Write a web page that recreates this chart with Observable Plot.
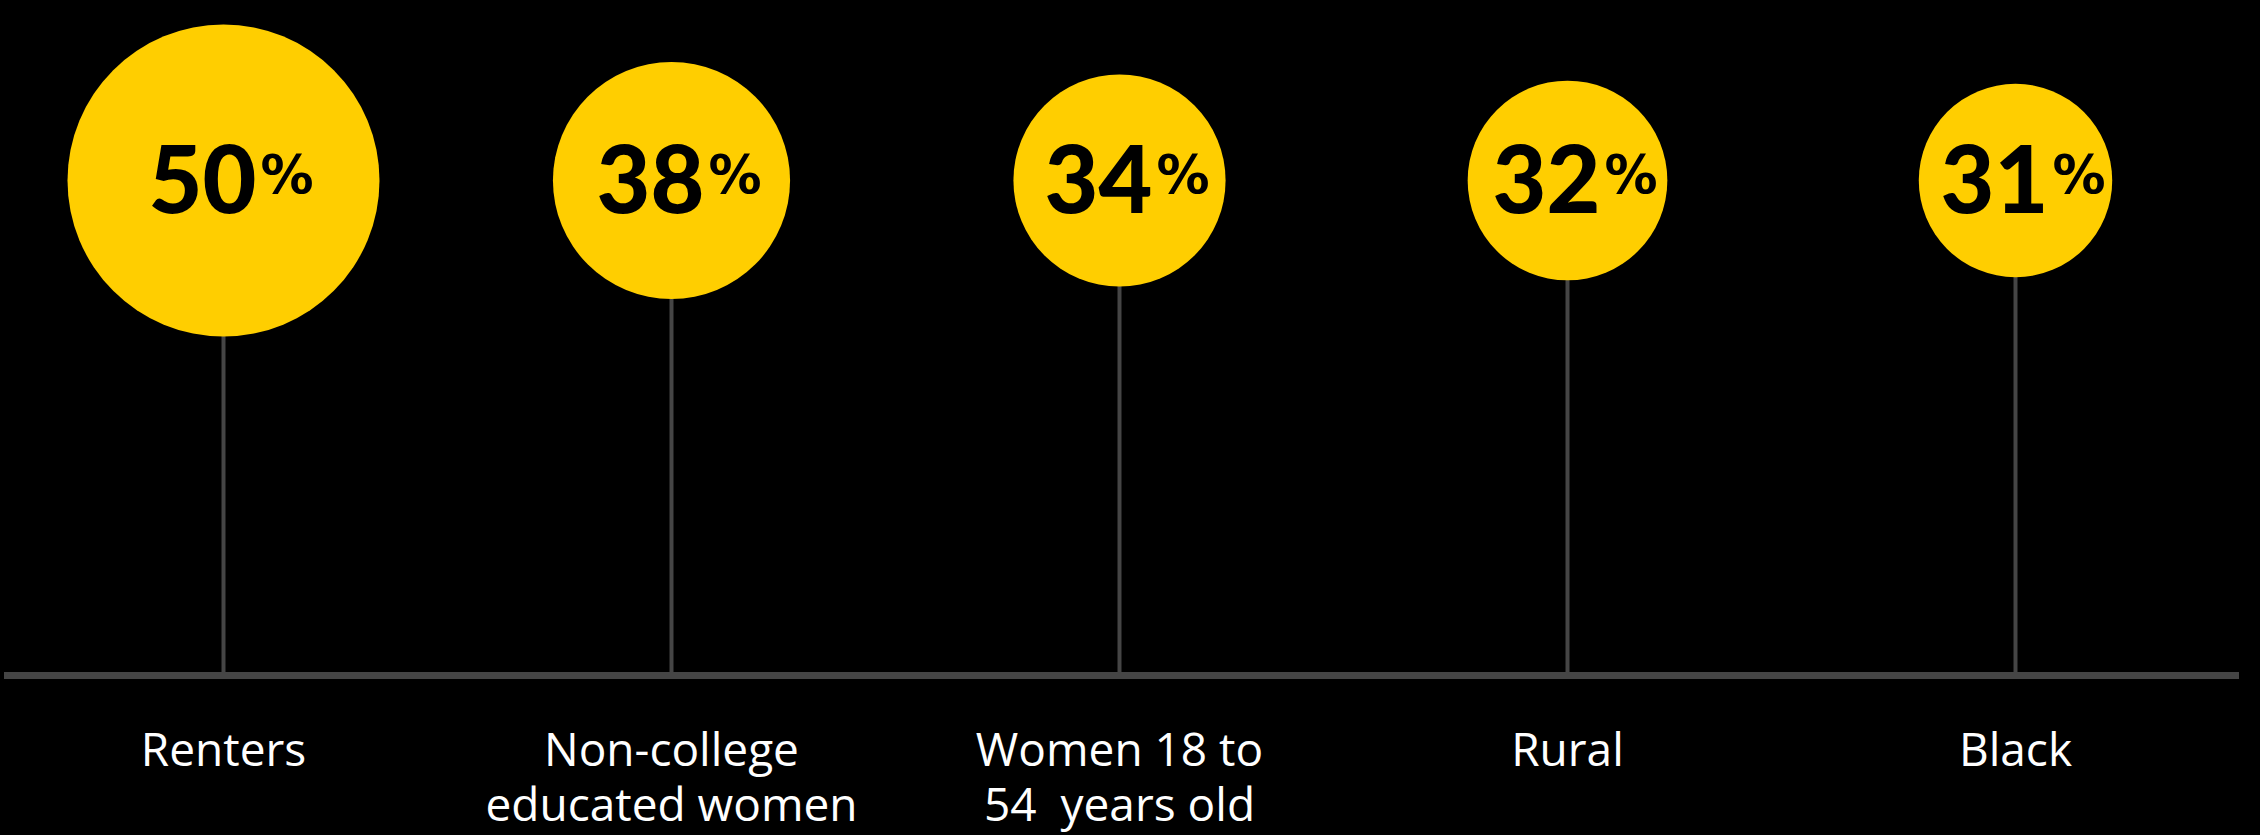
<!DOCTYPE html>
<html><head><meta charset="utf-8">
<script src="https://cdn.jsdelivr.net/npm/d3@7"></script>
<script src="https://cdn.jsdelivr.net/npm/@observablehq/plot@0.6"></script>
<style>html,body{margin:0;padding:0;background:#000;overflow:hidden}</style>
</head><body><div id="chart"></div>
<script>
const groups = ["Renters", "Non-college educated women", "Women 18 to 54 years old", "Rural", "Black"];
const labels = ["Renters", "Non-college\neducated women", "Women 18 to\n54  years old", "Rural", "Black"];
const values = [50, 38, 34, 32, 31];
const data = groups.map((g, i) => ({group: g, label: labels[i], value: values[i]}));

const chart = Plot.plot({
  width: 2260, height: 835,
  marginLeft: 4, marginRight: 21, marginTop: 0, marginBottom: 0,
  style: {background: "#000", overflow: "visible"},
  x: {type: "point", domain: groups, range: [222, 2016], padding: 0, axis: null},
  y: {domain: [0, 1], range: [675, 180], axis: null},
  r: {type: "linear", domain: [0, 50], range: [0, 156]},
  marks: [
    Plot.ruleX(data, {x: "group", y1: 0, y2: 1, stroke: "#454545", strokeWidth: 4}),
    Plot.ruleY([0], {stroke: "#454545", strokeWidth: 7}),
    Plot.dot(data, {x: "group", y: 1, r: "value", fill: "#FFCE00", stroke: "none"}),
    Plot.text(data, {x: "group", y: 1, text: d => String(d.value), textAnchor: "end", lineAnchor: "bottom", dx: 33, dy: 32, fontSize: 93, fontWeight: 900, fontFamily: "Lato", fill: "#000"}),
    Plot.text(data, {x: "group", y: 1, text: d => "%", textAnchor: "start", lineAnchor: "bottom", dx: 37, dy: 12, fontSize: 53, fontWeight: "bold", fontFamily: "DejaVu Sans", fill: "#000"}),
    Plot.text(data, {x: "group", y: 0, text: "label", lineAnchor: "top", dy: 51, fontSize: 46, lineHeight: 1.196, fill: "#fff", fontFamily: "Open Sans"})
  ]
});
document.getElementById("chart").append(chart);
</script>
</body></html>
